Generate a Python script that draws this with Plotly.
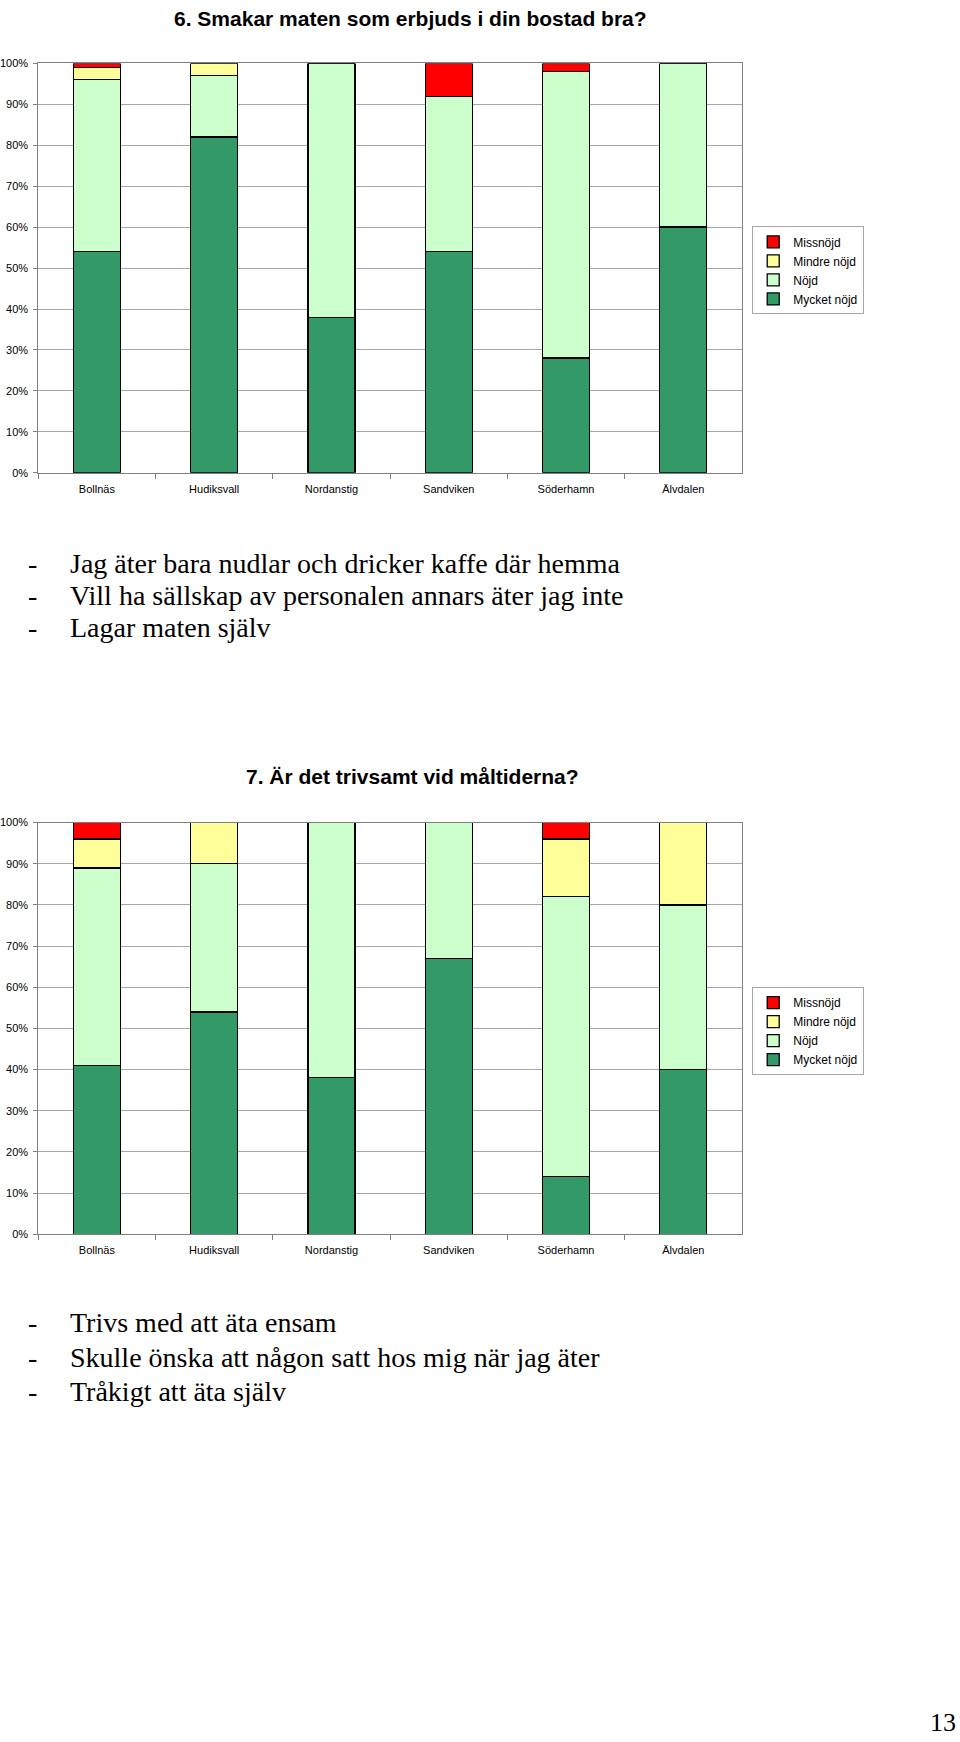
import plotly.graph_objects as go

W, H = 960, 1742

categories = ["Bollnäs", "Hudiksvall", "Nordanstig", "Sandviken", "Söderhamn", "Älvdalen"]
series_names = ["Mycket nöjd", "Nöjd", "Mindre nöjd", "Missnöjd"]
series_colors = ["#339966", "#CCFFCC", "#FFFF99", "#FF0000"]

# Chart 6 values (percent)
q6_mycket_nojd = [54, 82, 38, 54, 28, 60]
q6_nojd = [42, 15, 62, 38, 70, 40]
q6_mindre_nojd = [3, 3, 0, 0, 0, 0]
q6_missnojd = [1, 0, 0, 8, 2, 0]

# Chart 7 values (percent)
q7_mycket_nojd = [41, 54, 38, 67, 14, 40]
q7_nojd = [48, 36, 62, 33, 68, 40]
q7_mindre_nojd = [7, 10, 0, 0, 14, 20]
q7_missnojd = [4, 0, 0, 0, 4, 0]

title_q6 = "6. Smakar maten som erbjuds i din bostad bra?"
title_q7 = "7. Är det trivsamt vid måltiderna?"

comments_q6 = [
    "Jag äter bara nudlar och dricker kaffe där hemma",
    "Vill ha sällskap av personalen annars äter jag inte",
    "Lagar maten själv",
]
comments_q7 = [
    "Trivs med att äta ensam",
    "Skulle önska att någon satt hos mig när jag äter",
    "Tråkigt att äta själv",
]
page_number = "13"

ytick_vals = list(range(0, 101, 10))
ytick_text = [f"{v}%" for v in ytick_vals]

def px_x(x):
    return x / W

def px_y(y):
    return 1 - y / H

fig = go.Figure()

q6 = [q6_mycket_nojd, q6_nojd, q6_mindre_nojd, q6_missnojd]
q7 = [q7_mycket_nojd, q7_nojd, q7_mindre_nojd, q7_missnojd]

for vals, name, color in zip(q6, series_names, series_colors):
    fig.add_trace(go.Bar(
        x=categories, y=vals, name=name, xaxis="x", yaxis="y",
        marker=dict(color=color, line=dict(color="black", width=1.3)),
        legend="legend", hoverinfo="skip",
    ))
for vals, name, color in zip(q7, series_names, series_colors):
    fig.add_trace(go.Bar(
        x=categories, y=vals, name=name, xaxis="x2", yaxis="y2",
        marker=dict(color=color, line=dict(color="black", width=1.3)),
        legend="legend2", hoverinfo="skip",
    ))

axis_font = dict(family="Liberation Sans, Arial, sans-serif", size=11, color="black")
grid_color = "#A6A6A6"

def xaxis_cfg(anchor):
    return dict(
        domain=[px_x(37.3), px_x(741.7)], anchor=anchor,
        type="category", range=[-0.5, 5.5],
        showline=True, linecolor="#808080", linewidth=1, mirror=True,
        ticks="outside", tickson="boundaries", ticklen=5, tickcolor="#808080",
        tickfont=axis_font, ticklabelstandoff=6,
        showgrid=False, fixedrange=True,
    )

def yaxis_cfg(anchor, top, bottom):
    return dict(
        domain=[px_y(bottom), px_y(top)], anchor=anchor,
        range=[0, 100], tickvals=ytick_vals, ticktext=ytick_text,
        showline=True, linecolor="#808080", linewidth=1, mirror=True,
        ticks="outside", ticklen=4, tickcolor="#808080",
        tickfont=axis_font, ticklabelstandoff=3,
        showgrid=True, gridcolor=grid_color, gridwidth=1,
        zeroline=False, fixedrange=True,
    )

legend_common = dict(
    font=dict(family="Liberation Sans, Arial, sans-serif", size=12, color="black"),
    bgcolor="white", bordercolor="#A6A6A6", borderwidth=1,
    traceorder="reversed", xanchor="left", yanchor="top",
    itemwidth=30, itemclick=False, itemdoubleclick=False,
)

fig.update_layout(
    width=W, height=H,
    margin=dict(l=0, r=0, t=0, b=0),
    paper_bgcolor="white", plot_bgcolor="white",
    barmode="stack", bargap=0.6,
    showlegend=True,
    xaxis=xaxis_cfg("y"),
    yaxis=yaxis_cfg("x", 57.8, 470),
    xaxis2=xaxis_cfg("y2"),
    yaxis2=yaxis_cfg("x2", 822.3, 1236.7),
    legend=dict(x=px_x(752), y=px_y(222), **legend_common),
    legend2=dict(x=px_x(752), y=px_y(988), **legend_common),
)

title_font = dict(family="Liberation Sans, Arial, sans-serif", size=21, color="black")
fig.add_annotation(text=f"<b>{title_q6}</b>", x=px_x(410), y=px_y(12.5),
                   xref="paper", yref="paper", xanchor="center", yanchor="middle",
                   showarrow=False, font=title_font)
fig.add_annotation(text=f"<b>{title_q7}</b>", x=px_x(411.6), y=px_y(776),
                   xref="paper", yref="paper", xanchor="center", yanchor="middle",
                   showarrow=False, font=title_font)

text_font = dict(family="Liberation Serif, Times New Roman, serif", size=28, color="black")

def add_comments(lines, ys):
    for line, yc in zip(lines, ys):
        fig.add_annotation(text="-", x=px_x(31.7), y=px_y(yc), xref="paper", yref="paper",
                           xanchor="center", yanchor="middle", showarrow=False, font=text_font)
        fig.add_annotation(text=line, x=px_x(67), y=px_y(yc), xref="paper", yref="paper",
                           xanchor="left", yanchor="middle", showarrow=False, font=text_font)

add_comments(comments_q6, [561, 594, 626])
add_comments(comments_q7, [1326, 1361, 1395])

fig.add_annotation(text=page_number, x=px_x(958), y=px_y(1728), xref="paper", yref="paper",
                   xanchor="right", yanchor="middle", showarrow=False,
                   font=dict(family="Liberation Serif, Times New Roman, serif", size=26, color="black"))

fig.write_html("out.html")
